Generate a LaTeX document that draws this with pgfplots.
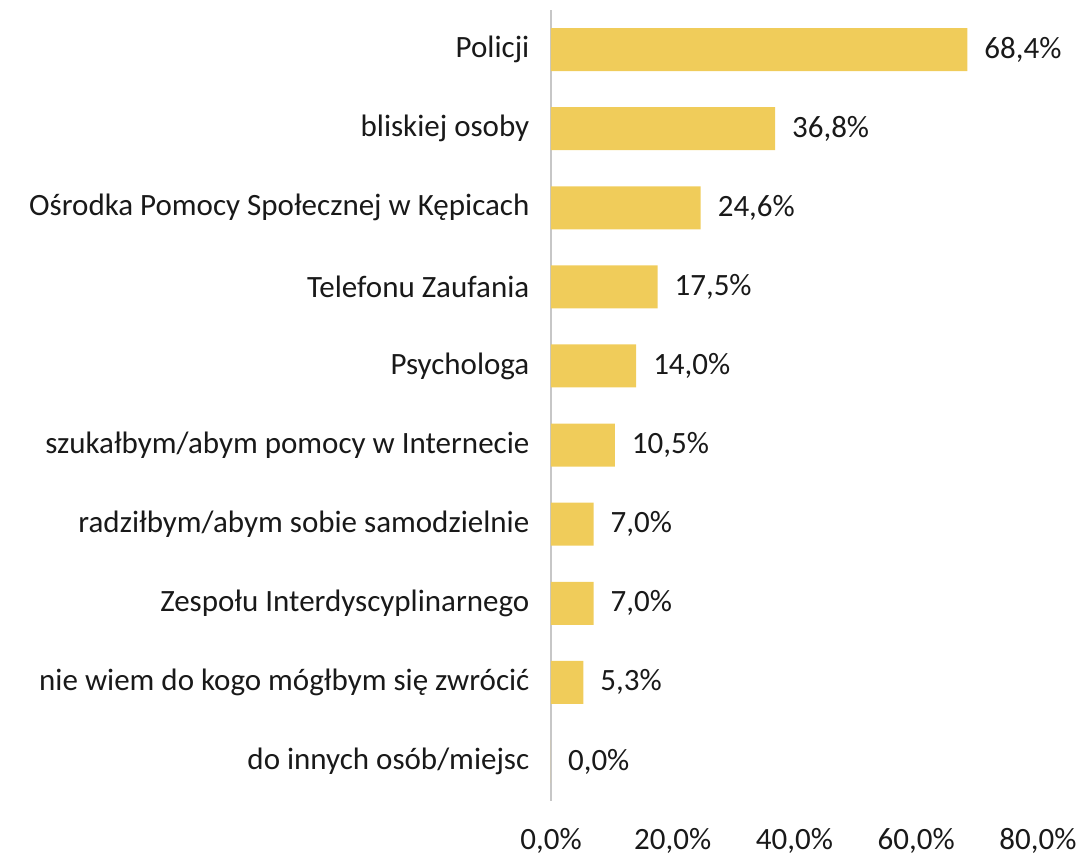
\documentclass[border=0pt]{standalone}
\usepackage{fontspec}
\setmainfont{Carlito}
\usepackage{pgfplots}
\pgfplotsset{compat=1.18}
\definecolor{barcol}{RGB}{240,204,90}
\definecolor{txt}{RGB}{25,25,25}
\begin{document}
\begin{tikzpicture}
\begin{axis}[
  at={(0,0)}, anchor=south west,
  scale only axis,
  width=243.5pt, height=395.5pt,
  xbar, bar width=21.5pt, bar shift=0pt,
  xmin=0, xmax=80,
  ymin=-0.5, ymax=9.5,
  y dir=reverse,
  axis lines*=left,
  axis line style={-},
  x axis line style={draw=none},
  y axis line style={draw=black!22, line width=0.9pt},
  major tick length=0pt,
  xtick={0,20,40,60,80},
  xticklabels={{0,0\%},{20,0\%},{40,0\%},{60,0\%},{80,0\%}},
  ytick={0,...,9},
  yticklabels={Policji, bliskiej osoby, Ośrodka Pomocy Społecznej w Kępicach, Telefonu Zaufania, Psychologa, szukałbym/abym pomocy w Internecie, radziłbym/abym sobie samodzielnie, Zespołu Interdyscyplinarnego, nie wiem do kogo mógłbym się zwrócić, do innych osób/miejsc},
  tick label style={font=\fontsize{15.5}{18}\selectfont, text=txt},
  xticklabel style={yshift=-10pt},
  yticklabel style={xshift=-7.3pt},
  point meta=x,
  nodes near coords={\pgfmathprintnumber[fixed, fixed zerofill, precision=1, use comma, assume math mode=true]{\pgfplotspointmeta}\%},
  every node near coord/.append style={anchor=west, xshift=5pt, font=\fontsize{15.5}{18}\selectfont, text=txt},
  clip=false,
]
\addplot[fill=barcol, draw=none] coordinates {
  (68.4,0) (36.8,1) (24.6,2) (17.5,3) (14.0,4) (10.5,5) (7.0,6) (7.0,7) (5.3,8) (0.0,9)
};
\end{axis}
\pgfresetboundingbox
\path (-275.5pt,-28.5pt) rectangle (266pt,400.5pt);
\end{tikzpicture}
\end{document}
